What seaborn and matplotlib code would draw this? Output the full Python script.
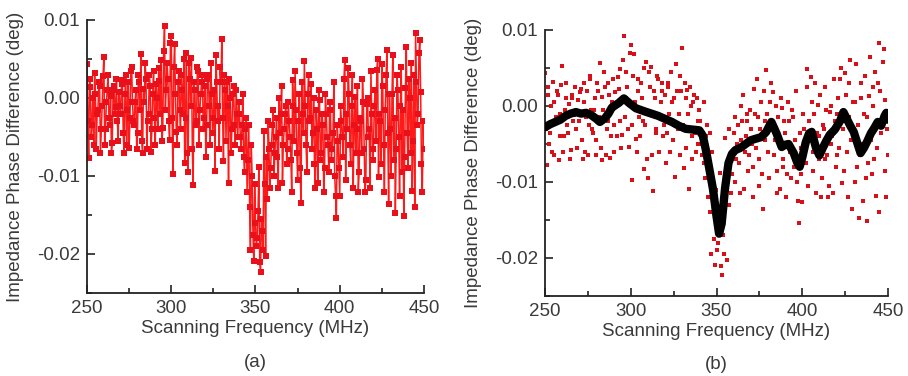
import numpy as np
import pandas as pd
import matplotlib
matplotlib.use("Agg")
import matplotlib.pyplot as plt
from matplotlib.ticker import MultipleLocator, FormatStrFormatter
import seaborn as sns

# scanning frequency: whole MHz and half MHz samples
freq_whole = list(range(250, 451))
freq_half = [f + 0.5 for f in range(250, 450)]

# impedance phase difference (units of 1e-3 deg)
phase_whole = [
    4.3, -7.7, 1.4, -3.5, -6.0, 0.5, -2.0, 2.0, -7.1, -1.0,     # 250-259
    5.2, -4.0, 1.0, -2.5, 0.3, -5.8, 1.5, -1.2, -3.0, 0.8,      # 260-269
    -2.0, 2.3, -7.0, 3.0, -1.5, -6.4, 3.5, -0.5, -3.5, 1.0,     # 270-279
    -4.5, 2.0, 5.6, -7.1, -0.5, 2.5, -3.0, 3.0, -6.9, 0.5,      # 280-289
    -2.5, 1.8, -4.0, 2.2, 4.9, -3.8, 9.2, 1.0, 2.5, -5.4,       # 290-299
    8.0, -9.7, 6.9, -4.4, 2.0, -1.5, 3.0, -2.0, -8.3, 5.8,      # 300-309
    -9.5, 2.5, 5.1, -11.2, 1.0, -3.0, 3.5, -1.5, 2.0, -4.0,     # 310-319
    1.5, -3.5, 3.0, -6.0, 0.5, -2.5, -9.4, 2.0, -1.0, 4.0,      # 320-329
    7.6, -8.1, 1.0, 2.1, -10.9, 0.0, -4.0, 1.5, -6.0, -2.0,     # 330-339
    -0.5, -5.0, -3.5, -7.5, -4.0, -12.0, -3.5, -19.5, -10.0, -20.9,  # 340-349
    -16.0, -18.0, -8.8, -22.3, -17.0, -4.2, -20.3, -13.0, -6.5, -9.0,  # 350-359
    -3.5, -10.0, -5.0, -7.5, 0.0, -2.0, -10.9, -4.0, -1.0, -6.5,  # 360-369
    -3.0, -8.0, 2.3, -5.5, -1.5, -10.5, 0.5, -13.5, -2.0, 4.7,  # 370-379
    -6.0, 0.5, -3.0, 1.8, -4.5, -8.5, -1.5, -10.9, -0.3, -7.0,  # 380-389
    -3.5, -9.0, -2.0, -6.0, -0.5, -8.0, -4.5, -10.0, -15.4, -5.5,  # 390-399
    -12.6, -3.0, -7.5, 4.9, -2.0, 3.8, -6.0, -1.0, -11.5, 0.1,  # 400-409
    -4.0, -12.0, -2.5, -7.0, -0.5, -12.0, -0.8, -5.0, -11.5, -2.0,  # 410-419
    -6.5, 1.0, 3.6, -10.1, -3.0, 4.4, -6.0, -1.5, 6.1, -13.6,   # 420-429
    -4.0, 0.5, -8.0, -14.7, 3.0, -5.0, -1.0, -9.5, -15.1, 1.3,  # 430-439
    -4.5, 2.5, -7.0, -11.9, 3.0, 8.3, -3.5, 5.8, 0.8, -12.0,    # 440-449
    -6.5,                                                       # 450
]
phase_half = [
    -3.0, 2.5, -5.0, 0.0, 3.2, -6.5, -1.5, 1.5, -4.0, 2.8,      # 250.5-259.5
    -6.0, -0.5, 3.0, -3.5, -7.0, 1.0, -2.0, 2.5, -5.5, -1.0,    # 260.5-269.5
    1.8, -4.5, 0.5, -6.0, 2.0, -2.5, 4.0, -3.0, -0.5, -6.5,     # 270.5-279.5
    3.0, -1.5, -5.5, 1.2, 4.5, -6.5, -2.0, 1.5, -4.0, 3.5,      # 280.5-289.5
    -6.0, 0.0, 3.8, -2.0, -5.5, 6.0, -1.5, 4.5, -3.0, 7.0,      # 290.5-299.5
    -2.5, 4.0, 0.5, -6.0, 3.5, -4.0, 1.0, 5.0, -2.5, -7.0,      # 300.5-309.5
    4.5, -1.0, -6.5, 2.0, -3.5, 4.0, -6.0, 0.5, 3.0, -2.5,      # 310.5-319.5
    -7.5, 2.5, -1.0, 4.5, -4.5, 1.0, 5.5, -3.0, -6.5, 2.0,      # 320.5-329.5
    -2.5, 3.0, -5.5, -1.0, 2.5, -7.0, 0.5, -3.5, 1.0, -5.0,     # 330.5-339.5
    -2.0, -6.5, 0.5, -9.5, -2.5, -8.0, -14.0, -6.0, -17.5, -11.0,  # 340.5-349.5
    -19.0, -14.5, -21.0, -15.5, -19.5, -11.0, -7.5, -3.0, -11.5, -6.0,  # 350.5-359.5
    -1.5, -7.0, -2.5, -11.5, -4.5, 1.5, -6.0, -2.0, -8.5, -0.5,  # 360.5-369.5
    -5.0, -12.0, -1.0, 3.5, -7.0, -3.0, -9.0, 2.0, -4.5, -1.0,  # 370.5-379.5
    -9.5, 3.0, -2.5, -6.5, 0.0, -11.5, -4.0, 1.0, -8.0, -2.0,   # 380.5-389.5
    -12.0, 0.5, -5.0, -9.5, -1.5, -6.5, 2.0, -12.5, -3.5, -9.0,  # 390.5-399.5
    -1.0, -5.0, 2.5, -10.5, -4.0, 0.5, -8.5, 3.0, -3.5, -7.0,   # 400.5-409.5
    1.5, -9.5, -3.0, 2.5, -6.5, -10.5, 0.0, -4.0, 3.5, -8.0,    # 410.5-419.5
    -1.0, -5.5, 5.0, -2.0, -8.5, 1.5, -12.0, 3.0, -4.5, 0.5,    # 420.5-429.5
    -10.0, 5.5, -2.5, -6.5, 1.0, -12.5, 4.0, -1.5, -7.5, 6.5,   # 430.5-439.5
    -9.0, 0.0, 4.5, -5.5, -14.0, 2.0, -2.0, 7.5, -8.5, -3.0,    # 440.5-449.5
]

# smoothed curve in panel (b)
smooth_freq = [250, 253, 256, 259, 262, 265, 268, 271, 274, 277, 280, 282, 285,
               287, 289, 291, 293, 296, 299, 303, 308, 312, 316, 320, 324, 328,
               332, 336, 340, 342, 344, 346, 348, 350, 351.5, 353, 355, 357,
               359, 361, 364, 367, 370, 373, 376, 379, 382, 385, 388, 390, 392,
               395, 397, 398.5, 400, 402, 404, 405.5, 408, 410, 412, 414, 416,
               419, 422, 424, 426, 428, 430, 432, 434, 436, 438, 440, 442, 444,
               446, 448, 449, 450]
smooth_milli = [-2.8, -2.4, -2.1, -1.8, -1.3, -1.0, -0.8, -1.0, -0.9, -1.2,
                -1.7, -2.1, -1.6, -1.0, -0.2, 0.1, 0.4, 1.0, 0.4, -0.3, -0.7,
                -1.0, -1.3, -1.7, -2.1, -2.6, -3.0, -3.1, -3.2, -3.9, -6.0,
                -8.5, -11.0, -14.5, -16.8, -15.5, -10.8, -7.5, -6.3, -5.8,
                -5.5, -5.0, -4.5, -4.3, -4.1, -3.4, -2.1, -3.6, -5.4, -5.1,
                -5.0, -6.2, -7.4, -8.0, -6.8, -4.8, -3.6, -3.4, -5.5, -6.5,
                -5.5, -4.6, -3.8, -3.1, -2.0, -0.8, -1.7, -2.6, -3.4, -4.8,
                -6.2, -5.5, -4.6, -3.6, -2.9, -2.1, -2.6, -1.3, -0.9, -1.8]

raw = pd.concat([
    pd.DataFrame({"freq": freq_whole, "phase": phase_whole}),
    pd.DataFrame({"freq": freq_half, "phase": phase_half}),
]).sort_values("freq").reset_index(drop=True)
raw["phase"] = raw["phase"] / 1000
smooth = pd.DataFrame({"freq": smooth_freq, "phase": np.array(smooth_milli) / 1000})

sns.set_style("ticks")
plt.rcParams["font.family"] = ["Liberation Sans", "DejaVu Sans"]
plt.rcParams["axes.unicode_minus"] = False
fs = 13.5
text_col = "#3a3a3a"

fig = plt.figure(figsize=(9.08, 3.76), dpi=100)
ax1 = fig.add_axes([87 / 908, 1 - 293 / 376, 337 / 908, 273 / 376])
ax2 = fig.add_axes([545 / 908, 1 - 296 / 376, 343 / 908, 266 / 376])

sns.lineplot(data=raw, x="freq", y="phase", ax=ax1, color="#ff1a1a",
             linewidth=1.1, marker="s", markersize=3.8, markeredgewidth=0,
             markerfacecolor="#e8101a", sort=False)

sns.scatterplot(data=raw, x="freq", y="phase", ax=ax2, color="#d8101a",
                marker="s", s=6, linewidth=0, zorder=2)
sns.lineplot(data=smooth, x="freq", y="phase", ax=ax2, color="black",
             linewidth=6, zorder=3)

for ax, tag in [(ax1, "(a)"), (ax2, "(b)")]:
    ax.set_xlim(250, 450)
    ax.set_ylim(-0.025, 0.01)
    ax.xaxis.set_major_locator(MultipleLocator(50))
    ax.xaxis.set_minor_locator(MultipleLocator(25))
    ax.yaxis.set_major_locator(MultipleLocator(0.01))
    ax.yaxis.set_minor_locator(MultipleLocator(0.005))
    ax.yaxis.set_major_formatter(FormatStrFormatter("%.2f"))
    ax.tick_params(which="major", direction="in", length=6, width=1.2,
                   colors="#222222", labelcolor=text_col, labelsize=fs, pad=5)
    ax.tick_params(which="minor", direction="in", length=3.5, width=1.2,
                   colors="#222222")
    for side in ["left", "bottom"]:
        ax.spines[side].set_linewidth(1.3)
        ax.spines[side].set_color("#222222")
    sns.despine(ax=ax)
    ax.set_xlabel("Scanning Frequency (MHz)", color=text_col, fontsize=fs,
                  labelpad=2)
    ax.set_ylabel("Impedance Phase Difference (deg)", color=text_col,
                  fontsize=fs, labelpad=9)
    ax.text(0.5, -0.225, tag, transform=ax.transAxes, ha="center", va="top",
            color=text_col, fontsize=fs)

fig.savefig("out.png", dpi=100)
